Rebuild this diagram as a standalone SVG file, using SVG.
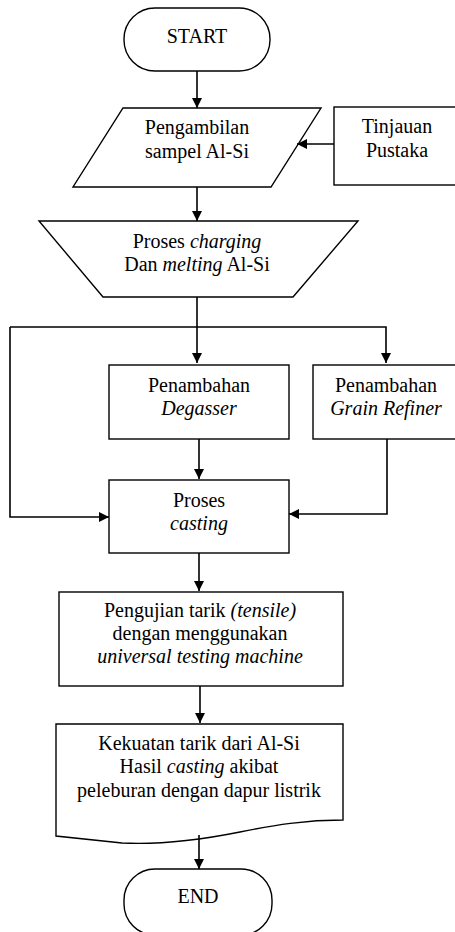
<svg xmlns="http://www.w3.org/2000/svg" width="455" height="932" viewBox="0 0 455 932">
<style>
.s{fill:#fff;stroke:#000;stroke-width:1.4}
.c{fill:none;stroke:#000;stroke-width:1.6}
text{font-family:'Liberation Serif',Tinos,'Times New Roman','DejaVu Serif',serif;font-size:20px;fill:#000;text-anchor:middle}
.i{font-style:italic}
</style>
<defs>
<marker id="a" viewBox="0 0 10 10" refX="10" refY="5" markerWidth="10" markerHeight="10" markerUnits="userSpaceOnUse" orient="auto">
<path d="M0,0 L10,5 L0,10 Z" fill="#000"/>
</marker>
</defs>
<rect width="455" height="932" fill="#fff"/>
<g id="start">
<rect class="s" x="124" y="8" width="146" height="63" rx="31" ry="31"/>
<text x="197" y="43">START</text>
</g>
<g id="pengambilan">
<polygon class="s" points="123,108 321,108 271,187 73,187"/>
<text x="197" y="134">Pengambilan</text>
<text x="197" y="158">sampel Al-Si</text>
</g>
<g id="tinjauan">
<rect class="s" x="334" y="107" width="126" height="78"/>
<text x="397" y="133">Tinjauan</text>
<text x="397" y="157">Pustaka</text>
</g>
<g id="charging">
<polygon class="s" points="39,221 358,221 293,297 103,297"/>
<text x="197" y="248">Proses <tspan class="i">charging</tspan></text>
<text x="197" y="271">Dan <tspan class="i">melting</tspan> Al-Si</text>
</g>
<g id="degasser">
<rect class="s" x="109" y="365" width="180" height="74"/>
<text x="199" y="392">Penambahan</text>
<text class="i" x="199" y="415">Degasser</text>
</g>
<g id="grain">
<rect class="s" x="313" y="365" width="147" height="74"/>
<text x="386" y="392">Penambahan</text>
<text class="i" x="386" y="415">Grain Refiner</text>
</g>
<g id="casting">
<rect class="s" x="109" y="480" width="180" height="73"/>
<text x="199" y="507">Proses</text>
<text class="i" x="199" y="530">casting</text>
</g>
<g id="pengujian">
<rect class="s" x="59" y="592" width="284" height="94"/>
<text x="200" y="617">Pengujian tarik <tspan class="i">(tensile)</tspan></text>
<text x="200" y="640">dengan menggunakan</text>
<text class="i" x="200" y="663">universal testing machine</text>
</g>
<g id="kekuatan">
<path class="s" d="M56,724 L343,724 L343,820 C305,820 275,825 240,832 C200,840 160,845 122,843 L56,836 Z"/>
<text x="199" y="750">Kekuatan tarik dari Al-Si</text>
<text x="199" y="773">Hasil <tspan class="i">casting</tspan> akibat</text>
<text x="199" y="797">peleburan dengan dapur listrik</text>
</g>
<g id="end">
<rect class="s" x="124" y="869" width="148" height="66" rx="31" ry="31"/>
<text x="198" y="903">END</text>
</g>
<g id="connectors">
<path class="c" d="M197,71 L197,108" marker-end="url(#a)"/>
<path class="c" d="M334,144 L297,144" marker-end="url(#a)"/>
<path class="c" d="M197,187 L197,221" marker-end="url(#a)"/>
<path class="c" d="M197,297 L197,363" marker-end="url(#a)"/>
<path class="c" d="M10,327 L386,327 L386,363" marker-end="url(#a)"/>
<path class="c" d="M10,327 L10,517 L109,517" marker-end="url(#a)"/>
<path class="c" d="M387,439 L387,514 L289,514" marker-end="url(#a)"/>
<path class="c" d="M199,439 L199,479" marker-end="url(#a)"/>
<path class="c" d="M199,553 L199,591" marker-end="url(#a)"/>
<path class="c" d="M200,686 L200,723" marker-end="url(#a)"/>
<path class="c" d="M199,835 L199,869" marker-end="url(#a)"/>
</g>
</svg>
